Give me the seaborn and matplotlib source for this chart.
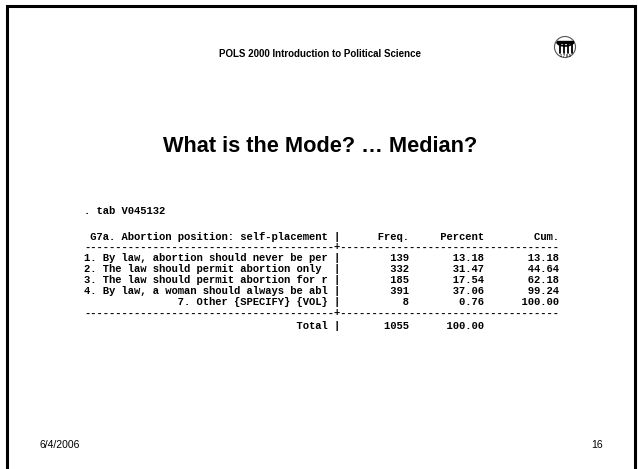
import matplotlib
matplotlib.use("Agg")
import matplotlib.pyplot as plt
import matplotlib.patches as mpatches
import seaborn as sns

# --------------
# slide text + table data
# --------------
header = "POLS 2000 Introduction to Political Science"
title = "What is the Mode? \u2026 Median?"
command = ". tab V045132"
var_label = "G7a. Abortion position: self-placement"
col_names = ["Freq.", "Percent", "Cum."]
categories = [
    "1. By law, abortion should never be per",
    "2. The law should permit abortion only",
    "3. The law should permit abortion for r",
    "4. By law, a woman should always be abl",
    "7. Other {SPECIFY} {VOL}",
]
freq = [139, 332, 185, 391, 8]
percent = [13.18, 31.47, 17.54, 37.06, 0.76]
cum = [13.18, 44.64, 62.18, 99.24, 100.00]
total_n = 1055
footer_date = "6/4/2006"
page_no = "16"

sns.set_theme(style="white")
plt.rcParams['font.family'] = ['Liberation Sans', 'DejaVu Sans']
plt.rcParams['text.color'] = 'black'

fig = plt.figure(figsize=(6.38, 4.69), dpi=100)
ax = fig.add_axes([0, 0, 1, 1])
ax.set_xlim(0, 638)
ax.set_ylim(469, 0)
ax.axis("off")

# slide frame (no bottom edge visible)
ax.plot([7, 7, 635, 635], [469, 6, 6, 469], color="black", lw=2.2, solid_joinstyle="miter")

ax.text(320, 54, header, ha="center", va="center", fontsize=7, fontweight="bold")
ax.text(320, 147, title, ha="center", va="center", fontsize=15.7, fontweight="bold")

# logo
ax.add_patch(mpatches.Circle((565, 47), 10.5, fill=False, lw=0.8, ec="#555555"))
for cx in [559.5, 563.5, 567.5, 571.5]:
    ax.plot([cx, cx], [44, 53], color="black", lw=1.3)
ax.add_patch(mpatches.Rectangle((557, 41), 16, 2.5, color="black"))
ax.add_patch(mpatches.Arc((565, 42), 16, 8, theta1=0, theta2=180, lw=1.2, color="black"))
ax.text(565, 56, "1 7 8 5", ha="center", va="center", fontsize=2.5, fontweight="bold")

# stata table
L = 39
lines = [var_label.rjust(L) + " |" + "".join(c.rjust(w) for c, w in zip(col_names, [11, 12, 12]))]
lines.append("-" * (L + 1) + "+" + "-" * 35)
for cat, f, p, c in zip(categories, freq, percent, cum):
    lab = cat if cat[0] in "1234" else cat.rjust(L)
    lines.append(lab.ljust(L) + " |" + str(f).rjust(11) + f"{p:.2f}".rjust(12) + f"{c:.2f}".rjust(12))
lines.append("-" * (L + 1) + "+" + "-" * 35)
lines.append("Total".rjust(L) + " |" + str(total_n).rjust(11) + "100.00".rjust(12))

mono = dict(family="Liberation Mono", fontweight="bold", fontsize=7.6, ha="left", va="center")
x0 = 84
ax.text(x0, 211, command, **mono)
ys = [237, 247, 258, 269, 280, 291, 302, 313, 326]
for y, ln in zip(ys, lines):
    ax.text(x0, y, ln, **mono)

ax.text(40, 445, footer_date, ha="left", va="center", fontsize=7.5)
ax.text(603, 445, page_no, ha="right", va="center", fontsize=7.5)

fig.savefig("out.png", dpi=100, facecolor="white")
